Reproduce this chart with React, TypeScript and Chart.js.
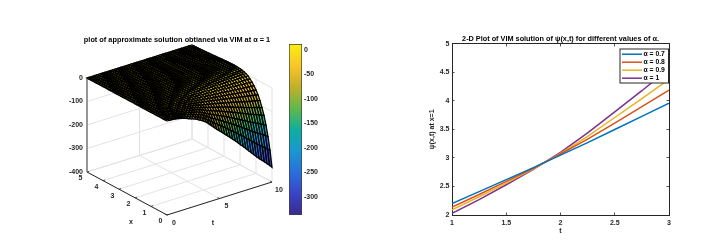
import React, { useEffect, useRef } from "react";
import { Chart, registerables } from "chart.js";

Chart.register(...registerables);

// ---------- 3-D surface data ----------
const tGrid = [0,0.25,0.5,0.75,1,1.25,1.5,1.75,2,2.25,2.5,2.75,3,3.25,3.5,3.75,4,4.25,4.5,4.75,5,5.25,5.5,5.75,6,6.25,6.5,6.75,7,7.25,7.5,7.75,8,8.25,8.5,8.75,9,9.25,9.5,9.75,10];
const depthAtXZero = [0,-0.3,-1,-2,-4,-6.5,-10,-13.5,-18,-22,-26,-31,-37,-43,-50,-58,-69,-80,-91,-102,-112,-122,-133,-143,-154,-165,-176,-187,-199,-210,-222,-234,-246,-258,-270,-282,-292,-303,-314,-325,-337];
const xGrid = [0,0.125,0.25,0.375,0.5,0.625,0.75,0.875,1,1.125,1.25,1.375,1.5,1.625,1.75,1.875,2,2.125,2.25,2.375,2.5,2.625,2.75,2.875,3,3.125,3.25,3.375,3.5,3.625,3.75,3.875,4,4.125,4.25,4.375,4.5,4.625,4.75,4.875,5];
const shareAtX = [1,0.8,0.64,0.51,0.4,0.315,0.24,0.18,0.135,0.095,0.06,0.035,0.01,-0.005,-0.015,-0.022,-0.027,-0.03,-0.031,-0.032,-0.031,-0.03,-0.029,-0.028,-0.026,-0.024,-0.022,-0.02,-0.018,-0.016,-0.014,-0.012,-0.01,-0.008,-0.006,-0.005,-0.003,-0.002,-0.001,-0.0005,0];
const xTicks = [0,1,2,3,4,5];
const tTicks = [0,5,10];
const zTicks = [0,-100,-200,-300,-400];
const colorbarTicks = [-300,-250,-200,-150,-100,-50,0];
const colorLimits = [-337.5,12];
const parula = ["#3a2a8c","#3a44c8","#2a6fdc","#1a98d0","#0fae9d","#62b84a","#c3b02a","#fbc52a","#f8f00e"];

// ---------- 2-D line data ----------
const lineT = [1,1.25,1.5,1.75,2,2.25,2.5,2.75,3];
const alpha07 = [2.2,2.41,2.62,2.83,3.05,3.27,3.5,3.73,3.96];
const alpha08 = [2.14,2.36,2.59,2.82,3.07,3.33,3.61,3.9,4.19];
const alpha09 = [2.09,2.32,2.56,2.81,3.08,3.38,3.71,4.04,4.38];
const alpha10 = [2.03,2.27,2.53,2.8,3.1,3.44,3.81,4.18,4.57];

const FONT = "'Liberation Sans', Arial, sans-serif";
const INK = "#262626";

// orthographic view matching the picture
function project(x: number, t: number, z: number) {
  return { x: 167 - 16 * x + 10.5 * t, y: 215 - 8.6 * x - 3.3 * t - 0.235 * (z + 400) };
}

function parulaAt(f: number) {
  const p = Math.max(0, Math.min(1, f)) * (parula.length - 1);
  const i = Math.min(parula.length - 2, Math.floor(p));
  const a = parseInt(parula[i].slice(1), 16), b = parseInt(parula[i + 1].slice(1), 16);
  const m = (s: number) => Math.round(((a >> s) & 255) * (1 - (p - i)) + ((b >> s) & 255) * (p - i));
  return `rgb(${m(16)},${m(8)},${m(0)})`;
}

function segment(points: { x: number; y: number }[], color: string, width: number) {
  return { data: points, borderColor: color, borderWidth: width, pointRadius: 0, showLine: true, fill: false, tension: 0 };
}

function surfaceDatasets() {
  const out: any[] = [];
  const z = (i: number, j: number) => depthAtXZero[j] * shareAtX[i];
  for (let i = 0; i < xGrid.length - 1; i++) {
    for (let j = 0; j < tGrid.length - 1; j++) {
      const mean = (z(i, j) + z(i + 1, j) + z(i, j + 1) + z(i + 1, j + 1)) / 4;
      const f = (mean - colorLimits[0]) / (colorLimits[1] - colorLimits[0]);
      out.push({
        data: [
          project(xGrid[i], tGrid[j], z(i, j)),
          project(xGrid[i + 1], tGrid[j], z(i + 1, j)),
          project(xGrid[i + 1], tGrid[j + 1], z(i + 1, j + 1)),
          project(xGrid[i], tGrid[j + 1], z(i, j + 1)),
          project(xGrid[i], tGrid[j], z(i, j)),
        ],
        showLine: true, fill: "shape", tension: 0, pointRadius: 0,
        backgroundColor: parulaAt(f), borderColor: "#000", borderWidth: 1.3,
      });
    }
  }
  return out;
}

function frameDatasets() {
  const out: any[] = [];
  const grid = "#e2e2e2";
  const top = zTicks[0], low = zTicks[zTicks.length - 1];
  const x5 = xTicks[xTicks.length - 1], t10 = tTicks[tTicks.length - 1];
  // axes
  out.push(segment([project(0, 0, low), project(x5, 0, low)], INK, 1));
  out.push(segment([project(0, 0, low), project(0, t10, low)], INK, 1));
  out.push(segment([project(x5, 0, low), project(x5, 0, top)], "#808080", 1.6));
  for (const v of xTicks) out.push(segment([project(v, 0, low), project(v, 0.2, low)], INK, 0.8));
  for (const v of tTicks) out.push(segment([project(0, v, low), project(0.12, v, low)], INK, 0.8));
  // walls & floor
  for (const v of xTicks) {
    out.push(segment([project(v, 0, low), project(v, t10, low)], grid, 1));
    out.push(segment([project(v, t10, low), project(v, t10, top)], grid, 1));
  }
  for (const v of tTicks) {
    out.push(segment([project(0, v, low), project(x5, v, low)], grid, 1));
    out.push(segment([project(x5, v, low), project(x5, v, top)], grid, 1));
  }
  for (const v of zTicks) {
    out.push(segment([project(x5, 0, v), project(x5, t10, v), project(0, t10, v)], grid, 1));
  }
  return out;
}

const surfaceText = {
  id: "surfaceText",
  afterDraw(chart: any) {
    const c = chart.ctx;
    c.save();
    c.fillStyle = INK;
    c.textBaseline = "middle";
    c.font = `bold 7px ${FONT}`;
    c.textAlign = "right";
    for (const v of zTicks) {
      const p = project(5, 0, v);
      c.fillText(String(v), p.x - 4, p.y);
    }
    c.textAlign = "center";
    for (const v of xTicks) {
      const p = project(v, 0, -400);
      c.fillText(String(v), p.x - 6.5, p.y + 6.5);
    }
    for (const v of tTicks) {
      const p = project(0, v, -400);
      c.fillText(String(v), p.x + 7, p.y + 8);
    }
    c.fillText("x", 131, 222);
    c.fillText("t", 213, 223);
    c.fillStyle = "#000";
    c.font = `bold 7.35px ${FONT}`;
    c.fillText("plot of approximate solution obtianed via VIM at \u03b1 = 1", 177, 39.5);
    c.restore();
  },
};

const lineLegend = {
  id: "lineLegend",
  afterDraw(chart: any) {
    const c = chart.ctx;
    const ox = chart.canvas.offsetLeft;
    const L = 620 - ox, T = 49, W = 48.5, H = 34;
    c.save();
    c.fillStyle = "#fff";
    c.strokeStyle = INK;
    c.lineWidth = 1;
    c.fillRect(L, T, W, H);
    c.strokeRect(L, T, W, H);
    c.textBaseline = "middle";
    c.font = `bold 6.8px ${FONT}`;
    chart.data.datasets.forEach((d: any, i: number) => {
      const y = 54.2 + i * 8;
      c.strokeStyle = d.borderColor;
      c.lineWidth = 1.5;
      c.beginPath();
      c.moveTo(L + 2, y);
      c.lineTo(L + 22, y);
      c.stroke();
      c.fillStyle = "#000";
      c.fillText(d.label, L + 23.5, y);
    });
    c.restore();
  },
};

const ticks = (extra: any = {}) => ({
  color: INK,
  font: { family: FONT, size: 7, weight: "bold" as const },
  maxRotation: 0,
  autoSkip: false,
  ...extra,
});
const inward = { drawOnChartArea: false, tickLength: -2.5, tickColor: INK, tickWidth: 0.8 };
const edge = { display: true, color: INK, width: 1 };

export default function App() {
  const surfaceRef = useRef<HTMLCanvasElement>(null);
  const barRef = useRef<HTMLCanvasElement>(null);
  const lineRef = useRef<HTMLCanvasElement>(null);

  useEffect(() => {
    const common = { responsive: false, animation: false as const, devicePixelRatio: 1, events: [] as any[] };
    const surface = new Chart(surfaceRef.current!, {
      type: "scatter",
      data: { datasets: [...surfaceDatasets(), ...frameDatasets()] },
      options: {
        ...common,
        layout: { padding: 0 },
        plugins: { legend: { display: false }, tooltip: { enabled: false }, title: { display: false } },
        scales: {
          x: { display: false, min: 0, max: 285 },
          y: { display: false, min: 0, max: 240, reverse: true },
        },
      },
      plugins: [surfaceText],
    } as any);

    const bar = new Chart(barRef.current!, {
      type: "bar",
      data: {
        labels: [""],
        datasets: [{
          data: [colorLimits] as any,
          barPercentage: 1,
          categoryPercentage: 1,
          borderColor: "#404040",
          borderWidth: 1,
          borderSkipped: false,
          backgroundColor: (ctx: any) => {
            const a = ctx.chart.chartArea;
            if (!a) return parula[0];
            const g = ctx.chart.ctx.createLinearGradient(0, a.bottom, 0, a.top);
            parula.forEach((col, i) => g.addColorStop(i / (parula.length - 1), col));
            return g;
          },
        }],
      },
      options: {
        ...common,
        layout: { padding: { top: 44, bottom: 25, left: 0, right: 0 } },
        plugins: { legend: { display: false }, tooltip: { enabled: false } },
        scales: {
          x: { display: false },
          y: {
            position: "right",
            min: colorLimits[0],
            max: colorLimits[1],
            afterBuildTicks: (s: any) => { s.ticks = colorbarTicks.map((value) => ({ value })); },
            afterFit: (s: any) => { s.width = 27; },
            ticks: ticks({ padding: 4.5, callback: (v: any) => String(v) }),
            grid: inward,
            border: { display: false },
          },
        },
      },
    } as any);

    const names = [alpha07, alpha08, alpha09, alpha10];
    const labels = ["\u03b1 = 0.7", "\u03b1 = 0.8", "\u03b1 = 0.9", "\u03b1 = 1"];
    const colors = ["#0072BD", "#D95319", "#EDB120", "#7E2F8E"];
    const line = new Chart(lineRef.current!, {
      type: "scatter",
      data: {
        datasets: names.map((vals, k) => ({
          label: labels[k],
          data: vals.map((y, i) => ({ x: lineT[i], y })),
          showLine: true, borderColor: colors[k], borderWidth: 1.5, pointRadius: 0, tension: 0, fill: false,
        })),
      },
      options: {
        ...common,
        layout: { padding: 0 },
        plugins: {
          legend: { display: false },
          tooltip: { enabled: false },
          title: {
            display: true, fullSize: false,
            text: "2-D Plot of VIM solution of \u03c8(x,t) for different values of \u03b1.",
            color: "#000",
            font: { family: FONT, size: 7.3, weight: "bold" },
            padding: { top: 34.6, bottom: 0 },
          },
        },
        scales: {
          x: {
            type: "linear", min: 1, max: 3, position: "bottom",
            afterFit: (s: any) => { s.height = 25; },
            ticks: ticks({ stepSize: 0.5, padding: 6, callback: (v: any) => String(v) }),
            grid: inward, border: edge,
            title: { display: true, text: "t", color: INK, font: { family: FONT, size: 7, weight: "bold" }, padding: { top: 0, bottom: 4.5 } },
          },
          x2: {
            axis: "x", type: "linear", min: 1, max: 3, position: "top",
            afterFit: (s: any) => { s.height = 0.6; },
            ticks: { display: false, stepSize: 0.5 },
            grid: inward, border: edge,
          },
          y: {
            type: "linear", min: 2, max: 5, position: "left",
            afterFit: (s: any) => { s.width = 28; },
            ticks: ticks({ stepSize: 0.5, padding: 5, callback: (v: any) => String(v) }),
            grid: inward, border: edge,
            title: { display: true, text: "\u03c8(x,t) at x=1", color: INK, font: { family: FONT, size: 7, weight: "bold" }, padding: { top: 4, bottom: 0 } },
          },
          y2: {
            axis: "y", type: "linear", min: 2, max: 5, position: "right",
            afterFit: (s: any) => { s.width = 57; },
            ticks: { display: false, stepSize: 0.5 },
            grid: inward, border: edge,
          },
        },
      },
      plugins: [lineLegend],
    } as any);

    return () => { surface.destroy(); bar.destroy(); line.destroy(); };
  }, []);

  const abs = (left: number, width: number): React.CSSProperties => ({
    position: "absolute", left, top: 0, width, height: 240, display: "block", filter: "blur(0.35px)",
  });

  return (
    <div style={{ position: "absolute", left: 0, top: 0, width: 726, height: 240, background: "#fff", overflow: "hidden" }}>
      <canvas ref={surfaceRef} width={285} height={240} style={abs(0, 285)} />
      <canvas ref={barRef} width={40} height={240} style={abs(289, 40)} />
      <canvas ref={lineRef} width={302} height={240} style={abs(424, 302)} />
    </div>
  );
}
